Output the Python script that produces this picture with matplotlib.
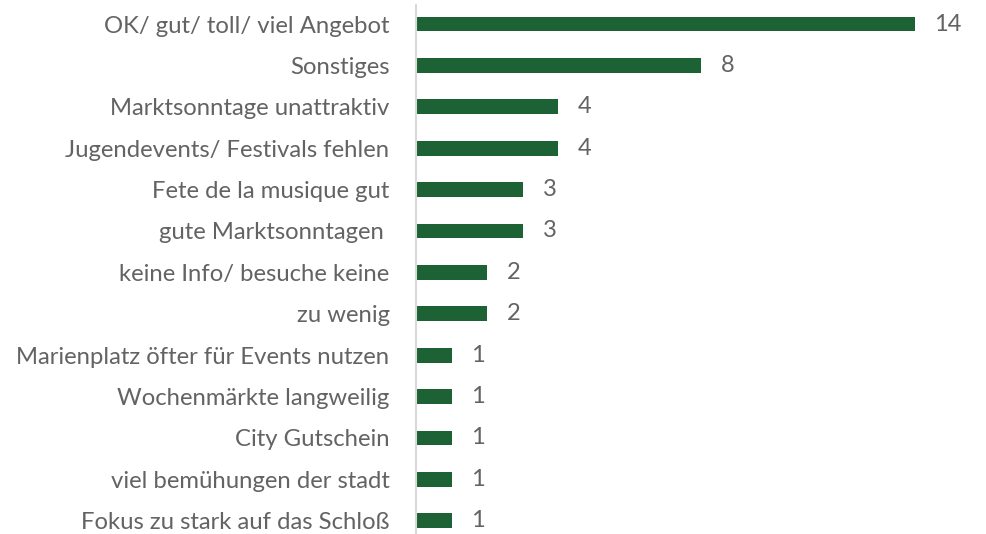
import matplotlib
matplotlib.use("Agg")
import matplotlib.pyplot as plt

categories = [
    "OK/ gut/ toll/ viel Angebot",
    "Sonstiges",
    "Marktsonntage unattraktiv",
    "Jugendevents/ Festivals fehlen",
    "Fete de la musique gut",
    "gute Marktsonntagen ",
    "keine Info/ besuche keine",
    "zu wenig",
    "Marienplatz öfter für Events nutzen",
    "Wochenmärkte langweilig",
    "City Gutschein",
    "viel bemühungen der stadt",
    "Fokus zu stark auf das Schloß",
]
values = [14, 8, 4, 4, 3, 3, 2, 2, 1, 1, 1, 1, 1]

bar_color = "#1d6234"
text_color = "#636363"

plt.rcParams['font.family'] = ['Lato', 'DejaVu Sans']

fig = plt.figure(figsize=(9.87, 5.34), dpi=100)
ax = fig.add_axes([416/987, 0, 1 - 416/987, 1])

ypos = list(range(len(categories)))
ax.barh(ypos, values, height=0.36, color=bar_color)
ax.set_ylim(12.32, -0.58)
ax.set_xlim(0, 16.03)

ax.set_yticks(ypos)
ax.set_yticklabels(categories, fontsize=17.2, color=text_color, fontweight='normal')
ax.tick_params(axis='y', length=0, pad=19)
ax.set_xticks([])

for y, v in zip(ypos, values):
    ax.text(v + 0.55, y, str(v), va='center', ha='left', fontsize=17,
            color=text_color, fontweight='normal')

for s in ['top', 'right', 'bottom']:
    ax.spines[s].set_visible(False)
ax.spines['left'].set_color('#d9d9d9')
ax.spines['left'].set_linewidth(1.5)
ax.spines['left'].set_bounds(12.32, -0.45)

fig.savefig("out.png", dpi=100)
